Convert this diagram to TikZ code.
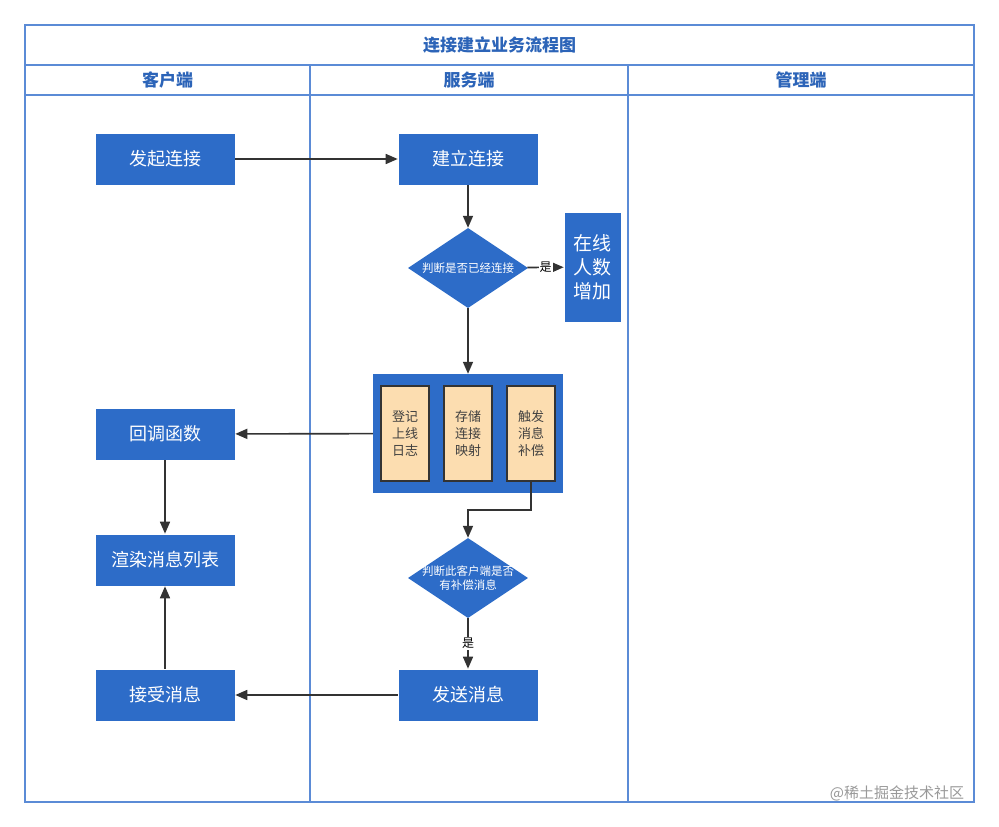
\documentclass[tikz,border=0pt]{standalone}
\usepackage{fontspec}
\setmainfont{Noto Sans CJK SC}
\usetikzlibrary{shapes.geometric,arrows.meta}
\definecolor{nb}{HTML}{2D6CC8}
\definecolor{fr}{HTML}{5B8BD6}
\definecolor{ht}{HTML}{2C64B8}
\definecolor{ob}{HTML}{FCDDB0}
\begin{document}
\begin{tikzpicture}[x=1pt,y=-1pt,
 box/.style={fill=nb,draw=white,line width=0.6pt,minimum width=140pt,minimum height=52pt,text=white,font=\fontsize{18}{20}\selectfont},
 dia/.style={diamond,fill=nb,minimum width=120pt,minimum height=80pt,inner sep=0pt},
 dt/.style={text=white,font=\fontsize{11.5}{14}\selectfont,align=center,inner sep=0pt},
 inb/.style={fill=ob,draw=black!80,line width=1.4pt,minimum width=48pt,minimum height=95pt,font=\fontsize{13}{17}\selectfont,text=black!75,align=center},
 ar/.style={draw=black!80,line width=1.6pt,-{Triangle[length=12pt,width=10pt]}},
 hd/.style={text=ht,font=\fontsize{17}{20}\selectfont\bfseries}]
\useasboundingbox (0,0) rectangle (999,827);
\fill[white] (0,0) rectangle (999,827);
\draw[fr,line width=1.2pt] (25,25) rectangle (974,802);
\draw[fr,line width=1.2pt] (25,65) -- (974,65) (25,95) -- (974,95);
\draw[fr,line width=1.2pt] (310,65) -- (310,802) (628,65) -- (628,802);
\node[hd] (title) at (499.5,45) {连接建立业务流程图};
\node[hd] (h1) at (167.5,80) {客户端};
\node[hd] (h2) at (469,80) {服务端};
\node[hd] (h3) at (801,80) {管理端};
\node[box] (fq) at (165,159) {发起连接};
\node[box] (jl) at (468,159) {建立连接};
\node[dia] (d1) at (468,268) {};
\node[dt] (d1t) at (468,268) {判断是否已经连接};
\node[box,minimum width=57pt,minimum height=110pt,align=center,font=\fontsize{19}{24}\selectfont] (zx) at (592.5,267) {在线\\人数\\增加};
\node[fill=nb,minimum width=190pt,minimum height=119pt] (ct) at (468,433.5) {};
\node[inb] (b1) at (405,433.5) {登记\\上线\\日志};
\node[inb] (b2) at (468,433.5) {存储\\连接\\映射};
\node[inb] (b3) at (531,433.5) {触发\\消息\\补偿};
\node[box] (hd) at (165,434) {回调函数};
\node[box] (xr) at (165,560) {渲染消息列表};
\node[box] (js) at (165,695) {接受消息};
\node[dia] (d2) at (468,578) {};
\node[dt] (d2t) at (468,578) {判断此客户端是否\\有补偿消息};
\node[box] (fs) at (468,695) {发送消息};
\node[text=black!40,font=\fontsize{15}{17}\selectfont] (wm) at (897,793) {@稀土掘金技术社区};
\draw[ar] (fq) -- (jl);
\draw[ar] (jl) -- (d1);
\draw[ar] (d1) -- node[fill=white,inner sep=1pt,font=\fontsize{12}{12}\selectfont]{是} (zx);
\draw[ar] (d1) -- (ct);
\draw[ar] (ct) -- (hd);
\draw[ar] (hd) -- (xr);
\draw[ar] (b3.south) |- (468,510) -- (d2.north);
\draw[ar] (d2) -- node[fill=white,inner sep=1pt,font=\fontsize{12}{12}\selectfont]{是} (fs);
\draw[ar] (fs) -- (js);
\draw[ar] (js) -- (xr);
\end{tikzpicture}
\end{document}
